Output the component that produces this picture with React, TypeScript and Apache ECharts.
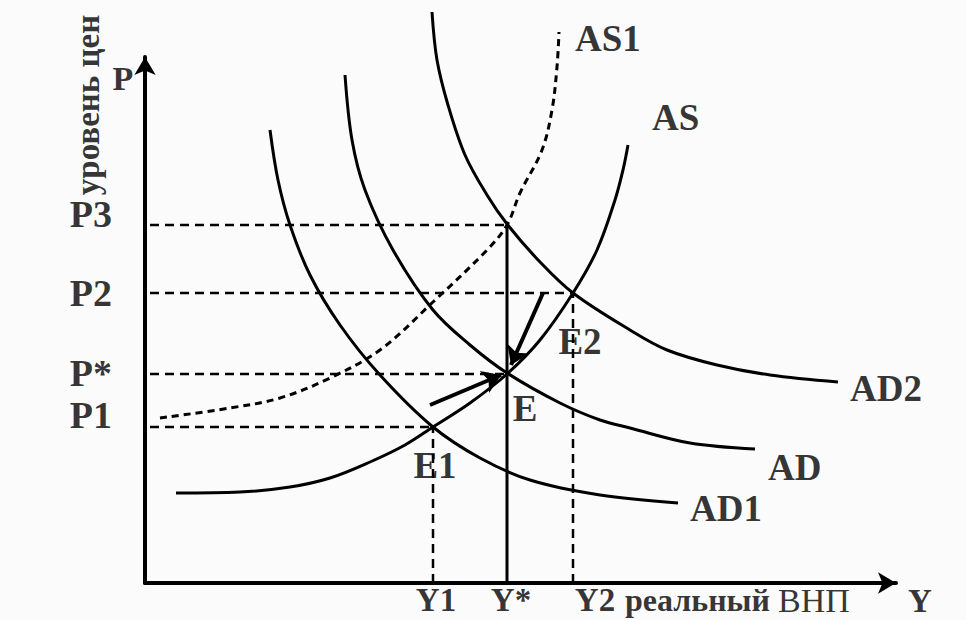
import React, { useEffect, useRef } from "react";
import * as echarts from "echarts";

// Curves (x: real GNP units, y: price level units)
const AS = [[31,90],[95,91],[145,96],[185,105],[225,121],[260,138],[288,156],[325,180],[362,209],[395,243],[428,290],[452,333],[470,383],[478,413],[483,438]];
const AS1 = [[15,165],[85,175],[135,185],[185,205],[235,233],[288,281],[342,333],[362,358],[375,390],[397,433],[407,473],[412,516],[414,551]];
const AD1 = [[125,453],[133,403],[145,358],[165,308],[195,258],[235,208],[288,156],[335,125],[385,103],[455,88],[533,80]];
const AD = [[200,508],[207,443],[220,393],[248,333],[288,273],[325,238],[362,210],[415,180],[455,163],[485,155],[545,140],[610,134]];
const AD2 = [[287,571],[292,523],[303,478],[320,428],[342,388],[362,359],[395,321],[428,290],[485,253],[522,233],[572,218],[625,208],[693,201]];

// Price levels and outputs
const pLabels = ["P3", "P2", "P*", "P1"];
const pValues = [358, 290, 209, 156];
const pEndX = [362, 428, 362, 288];
const yLabels = ["Y1", "Y*", "Y2"];
const yValues = [288, 362, 428];
const yTopP = [156, 358, 290];
const yDashed = [true, false, true];

// Shift arrows
const arrows = [
  [[285, 178], [356, 208]],
  [[398, 290], [366, 218]],
];

const X_MAX = 751;
const Y_MAX = 526;

const FONT = "'Liberation Serif', 'Times New Roman', serif";

export default function App() {
  const ref = useRef<HTMLDivElement>(null);
  useEffect(() => {
    if (!ref.current) return;
    const chart = echarts.init(ref.current, null, { renderer: "svg" });

    const lineS = (name: string, data: number[][], dashed: boolean, width = 3, dash: number[] = [9, 6]) => ({
      type: "line",
      name,
      data,
      symbol: "none",
      smooth: 0.35,
      clip: false,
      silent: true,
      lineStyle: { color: "#000", width, type: dashed ? dash : "solid" },
    });

    const series: any[] = [];
    series.push(lineS("AS", AS, false));
    series.push(lineS("AS1", AS1, true, 3, [7, 5]));
    series.push(lineS("AD1", AD1, false));
    series.push(lineS("AD", AD, false));
    series.push(lineS("AD2", AD2, false));

    pValues.forEach((p, i) => {
      series.push({
        type: "line",
        data: [[5, p], [pEndX[i], p]],
        symbol: "none",
        clip: false,
        silent: true,
        lineStyle: { color: "#000", width: 2.5, type: [9, 6] },
      });
    });
    yValues.forEach((y, i) => {
      series.push({
        type: "line",
        data: [[y, 0], [y, yTopP[i]]],
        symbol: "none",
        clip: false,
        silent: true,
        lineStyle: { color: "#000", width: yDashed[i] ? 2.5 : 3, type: yDashed[i] ? [9, 6] : "solid" },
      });
    });

    series.push({
      type: "lines",
      coordinateSystem: "cartesian2d",
      data: arrows.map((c) => ({ coords: c })),
      symbol: ["none", "arrow"],
      symbolSize: [14, 18],
      silent: true,
      lineStyle: { color: "#000", width: 4, opacity: 1 },
    });

    const txt = (name: string, x: number, y: number, align: string = "center", size = 37, rotate = 0) => ({
      name,
      value: [x, y],
      label: { align, rotate, fontSize: size },
    });

    const labelData = [
      txt("P", -22, 505, "center", 34),
      ...pLabels.map((l, i) => txt(l, -33, pValues[i] + [11, 0, 1, 12][i], "right", 38)),
      txt("уровень цен", -57, 478, "center", 33, 90),
      ...yLabels.map((l, i) => txt(l, yValues[i] + [3, 4, 22][i], -17, "center", 33)),
      txt("{a|реальный} {b|ВНП}", 480, -17, "left", 32),
      txt("Y", 775, -18, "center", 33),
      txt("AS1", 430, 545, "left"),
      txt("AS", 507, 466, "left"),
      txt("AD2", 705, 195, "left"),
      txt("AD", 623, 116, "left"),
      txt("AD1", 545, 75, "left"),
      txt("E1", 290, 118),
      txt("E", 380, 175),
      txt("E2", 435, 242),
    ];

    series.push({
      type: "scatter",
      data: labelData,
      symbolSize: 0,
      clip: false,
      silent: true,
      label: {
        show: true,
        position: "inside",
        verticalAlign: "middle",
        formatter: (p: any) => p.name,
        color: "#000",
        textBorderWidth: 0,
        fontFamily: FONT,
        fontWeight: "bold",
        fontSize: 36,
        rich: {
          a: { fontFamily: FONT, fontWeight: "bold", fontSize: 32, color: "#000", textBorderWidth: 0 },
          b: { fontFamily: FONT, fontWeight: "normal", fontSize: 34, color: "#000", textBorderWidth: 0 },
        },
      },
    });

    const axisCommon = {
      type: "value",
      axisTick: { show: false },
      axisLabel: { show: false },
      splitLine: { show: false },
      axisLine: {
        show: true,
        onZero: false,
        symbol: ["none", "arrow"],
        symbolSize: [16, 18],
        lineStyle: { color: "#000", width: 4 },
      },
    };

    chart.setOption({
      animation: false,
      backgroundColor: "#fbfbfb",
      grid: { left: 145, right: 70, top: 57, bottom: 37, containLabel: false },
      xAxis: { ...axisCommon, min: 0, max: X_MAX },
      yAxis: { ...axisCommon, min: 0, max: Y_MAX },
      series,
    });
    return () => chart.dispose();
  }, []);

  return (
    <div
      ref={ref}
      style={{ position: "fixed", left: 0, top: 0, width: 966, height: 620 }}
    />
  );
}
